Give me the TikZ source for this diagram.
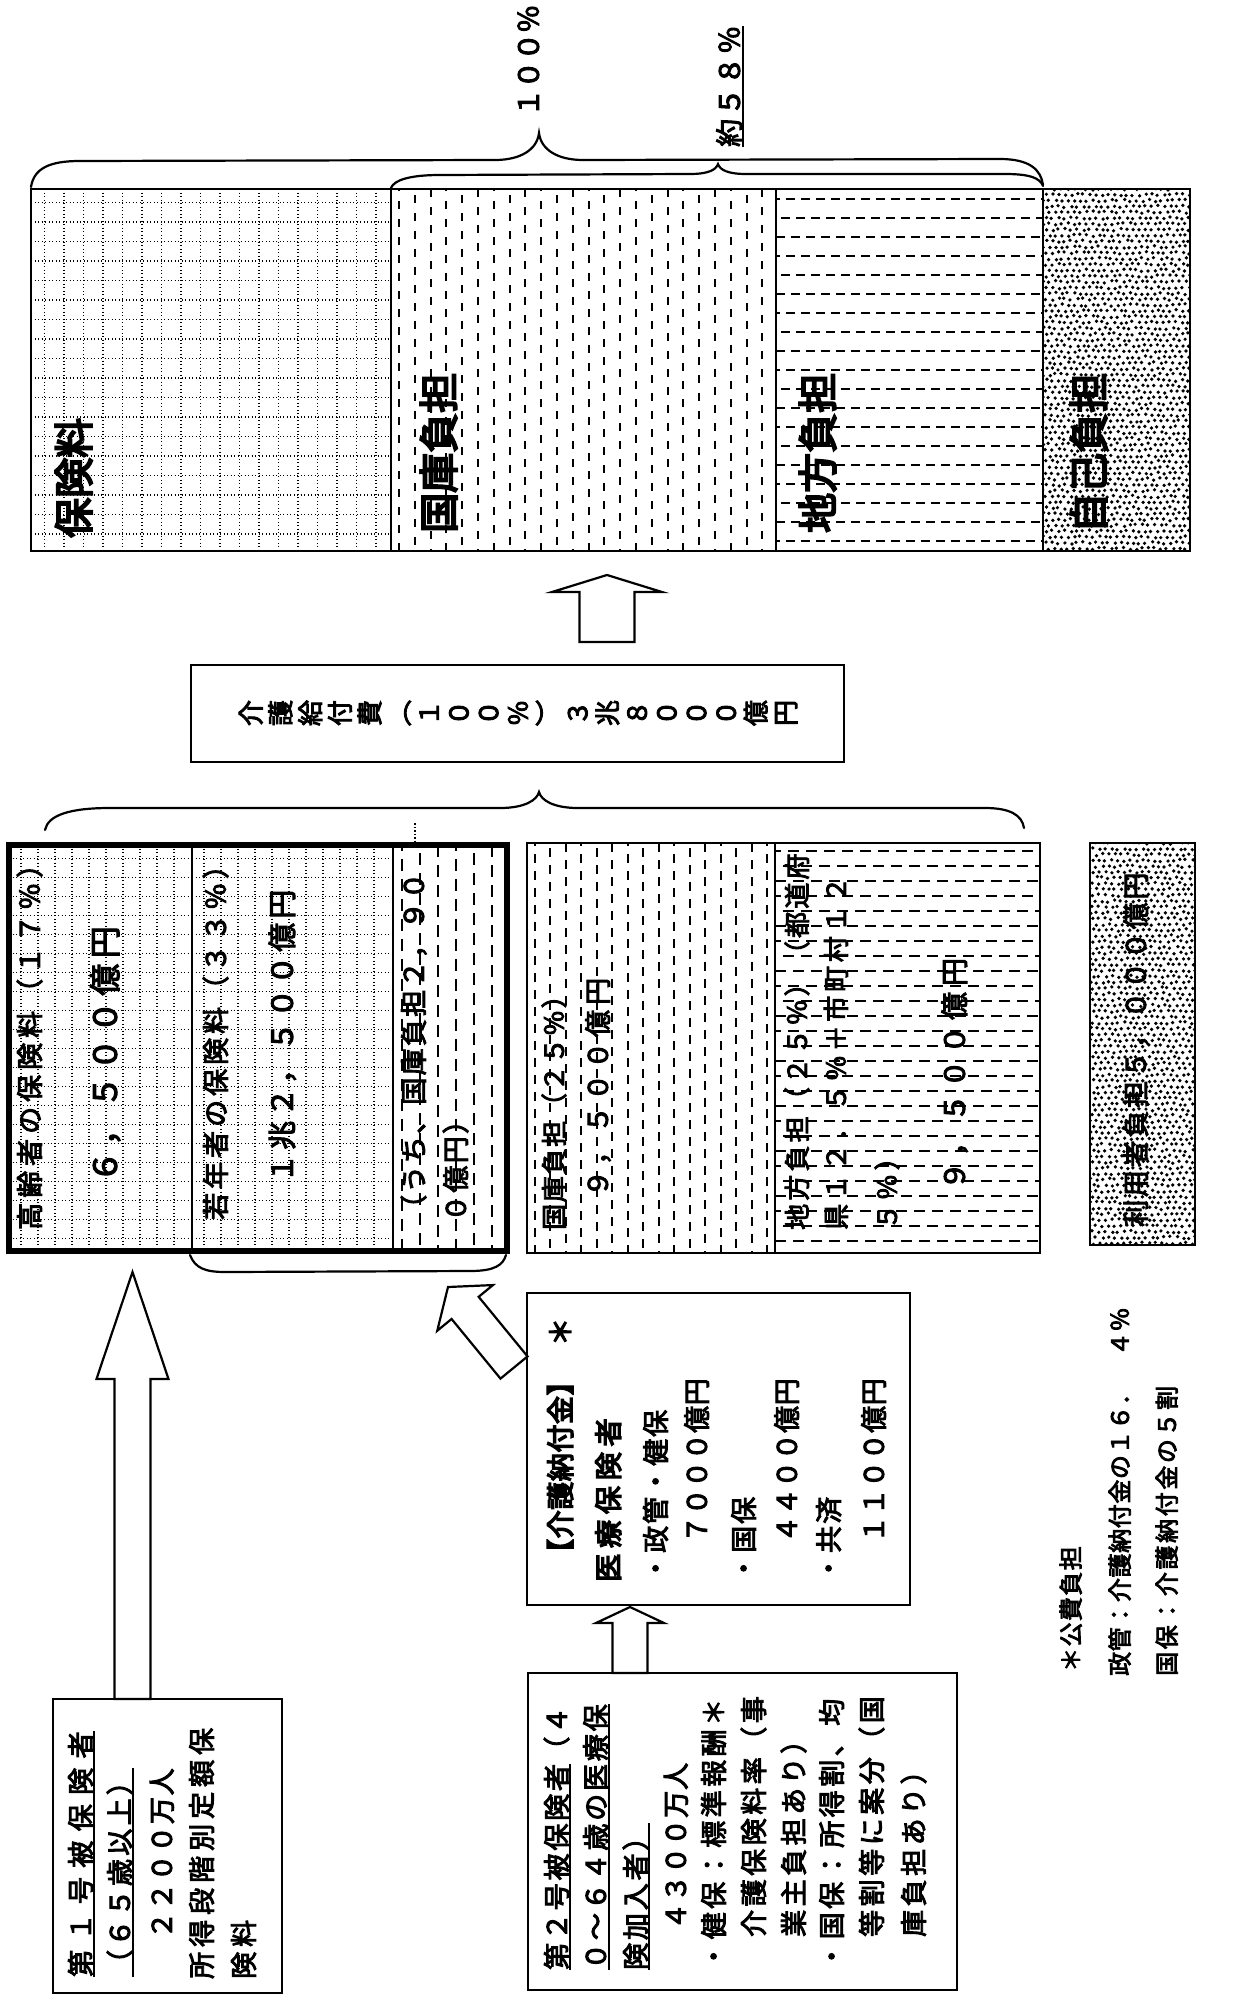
\documentclass[tikz,border=0pt]{standalone}
\usepackage{fontspec}
\setmainfont{Noto Sans CJK JP}
\newfontfamily\jpb[FakeBold=5]{Noto Sans CJK JP}
\newfontfamily\jpm[FakeBold=3.5]{Noto Sans CJK JP}
\usetikzlibrary{calc}
\newcommand\jf[2]{\fontsize{#1}{#1}\selectfont\addfontfeature{LetterSpace=#2}}
\tikzset{
 lab/.style={rotate=90, anchor=west, inner sep=0pt, text height=0.88em, text depth=0.12em},
 gl/.style={line width=1.4pt, dash pattern=on 1.4pt off 2.1pt},
 vd/.style={line width=2pt},
 hd/.style={line width=2pt},
 bx/.style={line width=2.2pt},
 brc/.style={line width=2.2pt, line cap=round},
 barr/.style={draw, line width=2.2pt, fill=white, line join=miter},
 ul/.style={line width=2pt},
}
\newcommand\dgrid[6]{%
 \begin{scope}
 \clip (#1,#2) rectangle (#3,#4);
 \pgfmathtruncatemacro\gnA{(#3-#1)/#5}
 \foreach \i in {1,...,\gnA}{\pgfmathsetmacro\xx{#1+\i*#5-#5*0.3}\draw[gl] (\xx,#2) -- (\xx,#4);}
 \pgfmathtruncatemacro\gnB{(#4-#2)/#6}
 \foreach \i in {1,...,\gnB}{\pgfmathsetmacro\yy{#2+\i*#6-#6*0.3}\draw[gl] (#1,\yy) -- (#3,\yy);}
 \end{scope}}
\newcommand\vdashes[6]{%
 \begin{scope}
 \clip (#1,#2) rectangle (#3,#4);
 \pgfmathtruncatemacro\gnA{(#3-#1)/#5}
 \foreach \i in {1,...,\gnA}{%
  \pgfmathsetmacro\xx{#1+\i*#5-#5*0.5}%
  \pgfmathsetmacro\dph{mod(\i,3)*6}%
  \draw[vd, dash pattern=#6, dash phase=\dph pt] (\xx,#2) -- (\xx,#4);}
 \end{scope}}
\newcommand\hdashes[6]{%
 \begin{scope}
 \clip (#1,#2) rectangle (#3,#4);
 \pgfmathtruncatemacro\gnA{(#4-#2)/#5}
 \foreach \i in {1,...,\gnA}{%
  \pgfmathsetmacro\yy{#2+\i*#5-#5*0.5}%
  \pgfmathsetmacro\dph{mod(\i,3)*5}%
  \draw[hd, dash pattern=#6, dash phase=\dph pt] (#1,\yy) -- (#3,\yy);}
 \end{scope}}
\newcommand\stip[4]{%
 \begin{scope}
 \clip (#1,#2) rectangle (#3,#4);
 \pgfmathtruncatemacro\gnA{(#3-#1)/6.2+1}
 \pgfmathtruncatemacro\gnB{(#4-#2)/5.8+1}
 \foreach \i in {0,...,\gnA}{\foreach \j in {0,...,\gnB}{%
   \pgfmathsetmacro\xx{#1+\i*6.2+mod(\j,2)*3.1+rand*1.2}%
   \pgfmathsetmacro\yy{#2+\j*5.8+rand*1.2}%
   \fill (\xx,\yy) circle[radius=1.85pt];}}
 \end{scope}}
\newcommand\barrow[5]{%
 \coordinate (bhA) at ($(#2)!#5!(#1)$);
 \draw[barr] ($(#1)!#3!90:(#2)$) -- ($(bhA)!#3!90:(#2)$) -- ($(bhA)!#4!90:(#2)$) -- (#2)
   -- ($(bhA)!#4!-90:(#2)$) -- ($(bhA)!#3!-90:(#2)$) -- ($(#1)!#3!-90:(#2)$) -- cycle;}
\begin{document}
\begin{tikzpicture}[x=1pt,y=-1pt]
\pgfmathsetseed{7}
\fill[white] (0,0) rectangle (1235,1999);
\useasboundingbox (0,0) rectangle (1235,1999);

% ---------- top bars ----------
\dgrid{31}{189}{391}{551}{19.5}{19.5}
\vdashes{391}{189}{776}{551}{15.8}{on 8pt off 10pt}
\hdashes{776}{189}{1043}{551}{19}{on 9pt off 6pt}
\stip{1043}{189}{1190}{551}
\draw[line width=2.5pt] (31,189) rectangle (1190,551);
\draw[bx] (391,189) -- (391,551) (776,189) -- (776,551) (1043,189) -- (1043,551);

\node[lab, font={\jpb\jf{40}{0}}] (b1) at (85,538) {保険料};
\node[lab, font={\jpb\jf{40}{0}}] (b2) at (450,533) {国庫負担};
\node[lab, font={\jpb\jf{40}{0}}] (b3) at (829,533) {地方負担};
\node[lab, font={\jpb\jf{40}{0}}] (b4) at (1100,533) {自己負担};

% braces at top
\draw[brc] (31,187) .. controls (34,168) and (50,161) .. (80,161) -- (495,160)
  .. controls (520,160) and (537,150) .. (539,133)
  .. controls (541,150) and (558,160) .. (583,160) -- (1000,159)
  .. controls (1030,159) and (1041,170) .. (1043,185);
\draw[brc] (391,188) .. controls (394,180) and (410,175) .. (440,175) -- (690,174)
  .. controls (708,174) and (716,170) .. (718,164)
  .. controls (720,170) and (728,174) .. (746,174) -- (1005,174)
  .. controls (1030,174) and (1040,178) .. (1043,186);
\node[lab, font={\jpm\jf{28}{0}}] (p100) at (535,117) {１００％};
\node[lab, font={\jpm\jf{28}{10.7}}] (p58) at (736,147) {約５８％};
\draw[ul] ([xshift=2pt]p58.south west) -- ([xshift=2pt]p58.south east);

% ---------- benefit box and arrow up ----------
\coordinate (a0s) at (607,642);
\coordinate (a0t) at (607,575);
\barrow{a0s}{a0t}{27.5pt}{55pt}{17pt}
\draw[bx] (191,665) rectangle (844,762);
\node[rotate=90, inner sep=0pt, align=center, font={\jpm\fontsize{26}{29.7}\selectfont}] (kyufu) at (518,713)
 {介\\護\\給\\付\\費\\︵\\１\\０\\０\\％\\︶\\３\\兆\\８\\０\\０\\０\\億\\円};

% middle brace
\draw[brc] (45,830) .. controls (48,815) and (70,808) .. (110,808) -- (500,808)
  .. controls (525,808) and (537,800) .. (539,792)
  .. controls (541,800) and (553,808) .. (578,808) -- (985,808)
  .. controls (1010,808) and (1022,815) .. (1024,828);
\draw[line width=1.5pt, dotted] (415,823) -- (415,842);

% ---------- thick box ----------
\dgrid{9}{845}{192}{1251}{17}{19}
\dgrid{192}{845}{393}{1251}{17}{19}
\vdashes{393}{845}{507}{1251}{18}{on 12pt off 8pt}
\draw[bx] (192,845) -- (192,1251) (393,845) -- (393,1251);
\draw[line width=6pt] (9,845) rectangle (507,1251);

\node[lab, font={\jpm\jf{27}{18.5}}] (t1) at (36,1230) {高齢者の保険料（１７％）};
\node[lab, font={\jpm\jf{32}{17}}] (t2) at (113,1183) {６，５００億円};
\node[lab, font={\jpm\jf{27}{14.8}}] (t3) at (222,1220) {若年者の保険料（３３％）};
\node[lab, font={\jpm\jf{29}{13.8}}] (t4) at (289,1183) {１兆２，５００億円};
\node[lab, font={\jpm\jf{27}{8.5}}] (t5) at (420,1222) {（うち、国庫負担２，９０};
\node[lab, font={\jpm\jf{27}{8.5}}] (t6) at (462,1222) {０億円）};

% brace under thick box
\draw[brc] (190,1255) .. controls (195,1268) and (205,1272) .. (225,1272) -- (470,1271)
  .. controls (495,1271) and (503,1265) .. (506,1255);

% ---------- state / local box ----------
\vdashes{527}{843}{775}{1253}{15.5}{on 9pt off 8pt}
\hdashes{775}{843}{1040}{1253}{15}{on 11pt off 7pt}
\draw[bx] (527,843) rectangle (1040,1253);
\draw[bx] (775,843) -- (775,1253);
\node[lab, font={\jpm\jf{26}{6.5}}] (t7) at (560,1230) {国庫負担（２５％）};
\node[lab, font={\jpm\jf{27}{18.5}}] (t8) at (604,1197) {９，５００億円};
\node[lab, font={\jpm\jf{26}{12.3}}] (t9) at (803,1230) {地方負担（２５％）（都道府};
\node[lab, font={\jpm\jf{26}{14.4}}] (t10) at (842,1230) {県１２．５％＋市町村１２};
\node[lab, font={\jpm\jf{26}{14.4}}] (t11) at (893,1230) {５％）};
\node[lab, font={\jpm\jf{28}{21.4}}] (t12) at (961,1190) {９，５００億円};

% ---------- user box ----------
\stip{1090}{843}{1195}{1245}
\draw[bx] (1090,843) rectangle (1195,1245);
\node[lab, font={\jpm\jf{27}{10.2}}] (t13) at (1142,1227) {利用者負担５，０００億円};

% ---------- first insured ----------
\coordinate (a1s) at (132.5,1699);
\coordinate (a1t) at (132.5,1272);
\barrow{a1s}{a1t}{18pt}{36pt}{107pt}
\draw[bx] (53,1699) rectangle (282,1993);
\node[lab, font={\jpm\jf{27}{34.8}}] (f1) at (87,1977) {第１号被保険者};
\draw[ul] ([xshift=1.5pt]f1.south west) -- ([xshift=1.5pt]f1.south east);
\node[lab, font={\jpm\jf{27}{12.2}}] (f2) at (126,1977) {（６５歳以上）};
\draw[ul] ([xshift=1.5pt]f2.south west) -- ([xshift=1.5pt]f2.south east);
\node[lab, font={\jpm\jf{27}{6.3}}] (f3) at (168,1939) {２２００万人};
\node[lab, font={\jpm\jf{27}{18.5}}] (f4) at (208,1979) {所得段階別定額保};
\node[lab, font={\jpm\jf{27}{18.5}}] (f5) at (250,1979) {険料};

% ---------- nursing contribution ----------
\coordinate (a4s) at (514,1367.5);
\coordinate (a4t) at (448,1287);
\barrow{a4s}{a4t}{17.5pt}{36pt}{27pt}
\draw[bx] (527,1293) rectangle (910,1605);
\node[lab, font={\jpb\jf{28}{2}}] (n1) at (567,1567) {【介護納付金】};
\node[lab, font={\jpb\jf{28}{0}}] (n1s) at (567,1346) {＊};
\node[lab, font={\jpb\jf{28}{21}}] (n2) at (615,1582) {医療保険者};
\node[lab, font={\jpm\jf{27}{7.4}}] (n3) at (662,1582) {・政管・健保};
\node[lab, font={\jpm\jf{27}{1.9}}] (n4) at (703,1543) {７０００億円};
\node[lab, font={\jpm\jf{27}{7.4}}] (n5) at (750,1582) {・国保};
\node[lab, font={\jpm\jf{27}{1.9}}] (n6) at (793,1543) {４４００億円};
\node[lab, font={\jpm\jf{27}{7.4}}] (n7) at (835,1582) {・共済};
\node[lab, font={\jpm\jf{27}{1.9}}] (n8) at (880,1543) {１１００億円};

% ---------- second insured ----------
\coordinate (a3s) at (630,1673);
\coordinate (a3t) at (630,1607);
\barrow{a3s}{a3t}{17.5pt}{34pt}{16pt}
\draw[bx] (528,1673) rectangle (957,1990);
\node[lab, font={\jpm\jf{27}{10.4}}] (s1a) at (563,1970) {第２号被保険者};
\node[lab, font={\jpm\jf{27}{10.4}}] (s1b) at (s1a.east) {（４};
\draw[ul] ([xshift=1.5pt]s1a.south west) -- ([xshift=1.5pt]s1a.south east);
\node[lab, font={\jpm\jf{27}{10.4}}] (s2) at (602,1970) {０～６４歳の医療保};
\draw[ul] ([xshift=1.5pt]s2.south west) -- ([xshift=1.5pt]s2.south east);
\node[lab, font={\jpm\jf{27}{10.4}}] (s3) at (642,1970) {険加入者）};
\draw[ul] ([xshift=1.5pt]s3.south west) -- ([xshift=1.5pt]s3.south east);
\node[lab, font={\jpm\jf{27}{3.7}}] (s4) at (682,1930) {４３００万人};
\node[lab, font={\jpm\jf{27}{13}}] (s5) at (720,1970) {・健保：標準報酬＊};
\node[lab, font={\jpm\jf{27}{13}}] (s6) at (760,1937) {介護保険料率（事};
\node[lab, font={\jpm\jf{27}{13}}] (s7) at (800,1937) {業主負担あり）};
\node[lab, font={\jpm\jf{27}{13}}] (s8) at (838,1970) {・国保：所得割、均};
\node[lab, font={\jpm\jf{27}{13}}] (s9) at (878,1937) {等割等に案分（国};
\node[lab, font={\jpm\jf{27}{13}}] (s10) at (920,1937) {庫負担あり）};

% ---------- footnote ----------
\node[lab, font={\jpm\jf{24}{5.8}}] (fn1) at (1076,1672) {＊公費負担};
\node[lab, font={\jpm\jf{24}{2.5}}] (fn2) at (1125,1676) {政管：介護納付金の１６．　４％};
\node[lab, font={\jpm\jf{24}{10.8}}] (fn3) at (1172,1676) {国保：介護納付金の５割};
\end{tikzpicture}
\end{document}
